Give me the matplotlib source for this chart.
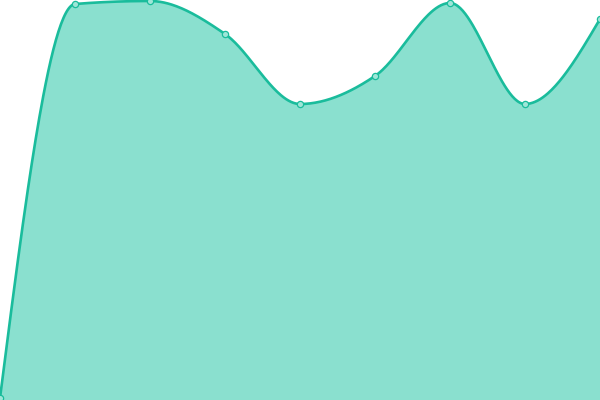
import numpy as np
import matplotlib
matplotlib.use("Agg")
import matplotlib.pyplot as plt

# data
x_vals = [0, 1, 2, 3, 4, 5, 6, 7, 8]
y_vals = [2, 396, 399, 366, 296, 324, 397, 296, 381]

LINE = "#1abc9c"
FILL = "#8ae0cf"


def slope3(x0, x1, x2, y0, y1, y2):
    h0 = x1 - x0
    h1 = x2 - x1
    s0 = (y1 - y0) / h0
    s1 = (y2 - y1) / h1
    p = (s0 * h1 + s1 * h0) / (h0 + h1)
    return (np.sign(s0) + np.sign(s1)) * min(abs(s0), abs(s1), 0.5 * abs(p))


def monotone(xs, ys, n=60):
    xs = np.asarray(xs, float)
    ys = np.asarray(ys, float)
    m = len(xs)
    t = np.zeros(m)
    for i in range(1, m - 1):
        t[i] = slope3(xs[i - 1], xs[i], xs[i + 1], ys[i - 1], ys[i], ys[i + 1])
    h = xs[1] - xs[0]
    t[0] = (3 * (ys[1] - ys[0]) / h - t[1]) / 2
    h = xs[-1] - xs[-2]
    t[-1] = (3 * (ys[-1] - ys[-2]) / h - t[-2]) / 2
    ox, oy = [], []
    for i in range(m - 1):
        x0, x1 = xs[i], xs[i + 1]
        dx = (x1 - x0) / 3
        p0 = np.array([x0, ys[i]])
        p1 = np.array([x0 + dx, ys[i] + dx * t[i]])
        p2 = np.array([x1 - dx, ys[i + 1] - dx * t[i + 1]])
        p3 = np.array([x1, ys[i + 1]])
        u = np.linspace(0, 1, n)[:, None]
        b = ((1 - u) ** 3) * p0 + 3 * ((1 - u) ** 2) * u * p1 + 3 * (1 - u) * u ** 2 * p2 + u ** 3 * p3
        ox.extend(b[:, 0])
        oy.extend(b[:, 1])
    return np.array(ox), np.array(oy)


fig = plt.figure(figsize=(6, 4), dpi=100)
ax = fig.add_axes([0, 0, 1, 1])

sx, sy = monotone(x_vals, y_vals)
ax.fill_between(sx, 0, sy, color=FILL, linewidth=0)
ax.plot(sx, sy, color=LINE, linewidth=1.9, solid_capstyle="round")
ax.plot(x_vals, y_vals, "o", markersize=4.5, markerfacecolor="#9fe6d8",
        markeredgecolor=LINE, markeredgewidth=0.9)

ax.set_xlim(0, 8)
ax.set_ylim(0, 400)
ax.axis("off")

fig.savefig("out.png", dpi=100)
